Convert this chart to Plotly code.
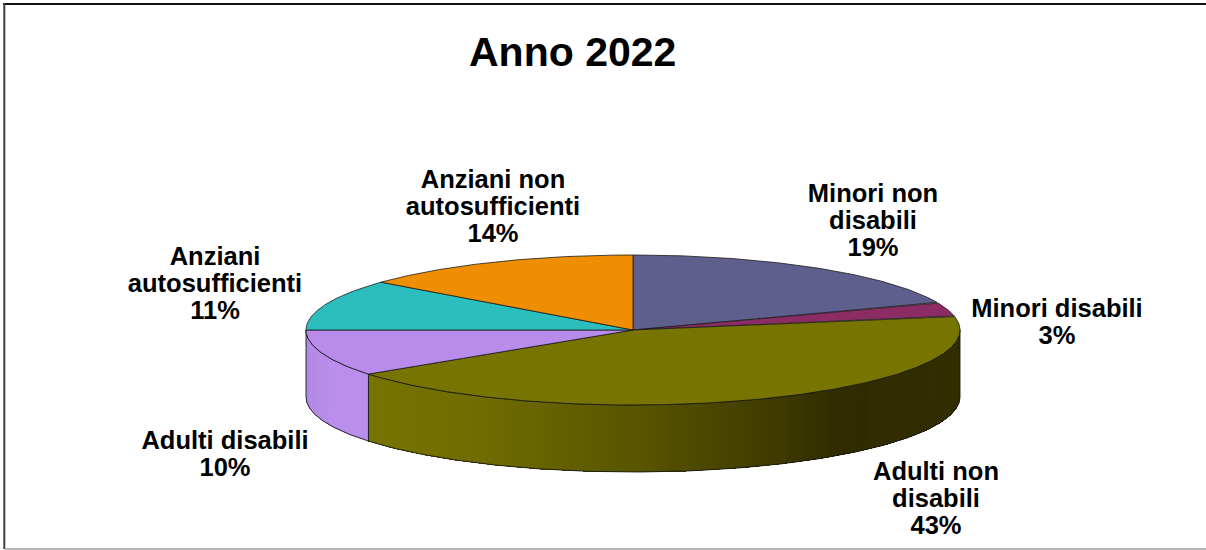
import math
import plotly.graph_objects as go

# ---- data ----
categories = ["Minori non disabili", "Minori disabili", "Adulti non disabili",
              "Adulti disabili", "Anziani autosufficienti", "Anziani non autosufficienti"]
values = [19, 3, 43, 10, 11, 14]
title_text = "Anno 2022"

# ---- styles and layout ----
top_colors = ["#5F5F8E", "#8C2C64", "#787400", "#B98CEC", "#2CBEBE", "#EE8E00"]
label_lines = {
    "Minori non disabili": ["Minori non", "disabili"],
    "Minori disabili": ["Minori disabili"],
    "Adulti non disabili": ["Adulti non", "disabili"],
    "Adulti disabili": ["Adulti disabili"],
    "Anziani autosufficienti": ["Anziani", "autosufficienti"],
    "Anziani non autosufficienti": ["Anziani non", "autosufficienti"],
}
label_pos = {  # x centre, y of first line
    "Minori non disabili": (873, 196),
    "Minori disabili": (1057, 311),
    "Adulti non disabili": (936, 474),
    "Adulti disabili": (225, 443),
    "Anziani autosufficienti": (215, 259),
    "Anziani non autosufficienti": (493, 182),
}
W, H = 1206, 550
CX, CY, RX, RY, DEPTH = 633, 330, 327, 75, 67
LINE_PITCH = 26.7
EDGE = "#1a1a1a"


def ell(theta_deg, dy=0):
    t = math.radians(theta_deg)
    return CX + RX * math.sin(t), CY - RY * math.cos(t) + dy


def arc(a, b, dy=0, step=0.5):
    n = max(2, int(abs(b - a) / step) + 1)
    return [ell(a + (b - a) * i / (n - 1), dy) for i in range(n)]


def lerp(c1, c2, f):
    return "rgb(%d,%d,%d)" % tuple(round(p + (q - p) * f) for p, q in zip(c1, c2))


def olive_wall(x):
    stops = [(369, (120, 116, 0)), (480, (112, 108, 0)), (640, (88, 84, 0)),
             (760, (66, 62, 0)), (840, (48, 44, 0)), (960, (50, 46, 0))]
    for (x0, c0), (x1, c1) in zip(stops, stops[1:]):
        if x <= x1:
            return lerp(c0, c1, max(0, (x - x0) / (x1 - x0)))
    return lerp(stops[-1][1], stops[-1][1], 0)


def lilac_wall(x):
    return lerp((176, 138, 226), (186, 142, 236), min(1, (x - 306) / 25))


bounds = [0]
for v in values:
    bounds.append(bounds[-1] + v / sum(values) * 360)

fig = go.Figure()


def poly(pts, fill, line=None, width=0.8):
    xs = [p[0] for p in pts]
    ys = [p[1] for p in pts]
    fig.add_trace(go.Scatter(x=xs, y=ys, mode="lines", fill="toself", fillcolor=fill,
                             line=dict(color=line or fill, width=width if line else 0),
                             hoverinfo="skip", showlegend=False))


# side walls (only the front half, clockwise angle 90..270, is visible)
# each gradient step covers the whole remainder of the wall, so no seams show
wall_styles = {2: olive_wall, 3: lilac_wall}
for idx, shade in wall_styles.items():
    a, b = max(bounds[idx], 90), min(bounds[idx + 1], 270)
    n = int((b - a) / 1.0)
    for i in range(n):
        s0 = a + (b - a) * i / n
        s1 = a + (b - a) * (i + 1) / n
        top = arc(s0, b)
        bot = arc(b, s0, DEPTH)
        xmid = (ell(s0)[0] + ell(s1)[0]) / 2
        poly(top + bot, shade(xmid))
    outline = arc(a, b) + arc(b, a, DEPTH) + [ell(a)]
    fig.add_trace(go.Scatter(x=[p[0] for p in outline], y=[p[1] for p in outline], mode="lines",
                             line=dict(color=EDGE, width=0.9), hoverinfo="skip", showlegend=False))

# top face
for i, c in enumerate(top_colors):
    pts = [(CX, CY)] + arc(bounds[i], bounds[i + 1]) + [(CX, CY)]
    poly(pts, c, line=EDGE)

# labels: one text mark per line, so the tight line pitch can be kept
for cat, v in zip(categories, values):
    x0, y0 = label_pos[cat]
    lines = label_lines[cat] + [f"{v}%"]
    fig.add_trace(go.Scatter(
        x=[x0] * len(lines), y=[y0 + LINE_PITCH * k for k in range(len(lines))],
        mode="text", text=lines, textposition="middle center",
        textfont=dict(family="Liberation Sans", size=25.5, color="#000000", weight="bold"),
        hoverinfo="skip", showlegend=False, cliponaxis=False))

fig.add_annotation(x=572, y=52, xref="x", yref="y", text=f"<b>{title_text}</b>", showarrow=False,
                   font=dict(family="Liberation Sans", size=41, color="#000000"))

# outer frame
frame = dict(type="line", xref="x", yref="y", layer="above")
fig.add_shape(x0=3, x1=1206, y0=4, y1=4, line=dict(color="#111111", width=2), **frame)
fig.add_shape(x0=4.3, x1=4.3, y0=3, y1=549, line=dict(color="#404040", width=2), **frame)
fig.add_shape(x0=5, x1=1206, y0=549, y1=549, line=dict(color="#B4B4B4", width=2), **frame)

fig.update_layout(
    width=W, height=H, margin=dict(l=0, r=0, t=0, b=0, autoexpand=False),
    paper_bgcolor="white", plot_bgcolor="white", showlegend=False,
    xaxis=dict(range=[0, W], visible=False, fixedrange=True),
    yaxis=dict(range=[H, 0], visible=False, fixedrange=True),
)
fig.write_html("out.html", config={"displayModeBar": False},
               post_script="document.body.style.margin='0';document.body.style.overflow='hidden';")
